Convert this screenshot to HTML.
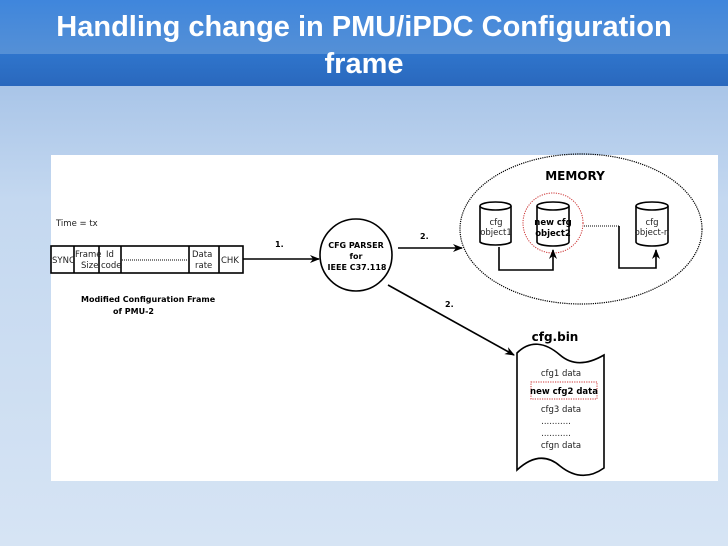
<!DOCTYPE html>
<html><head><style>
body{margin:0;width:728px;height:546px;overflow:hidden;font-family:"Liberation Sans",sans-serif;}
.bg{position:absolute;left:0;top:0;width:728px;height:546px;background:linear-gradient(#a9c5e8 86px,#c4d8f0 200px,#d6e4f4 546px);}
.t1{position:absolute;left:0;top:0;width:728px;height:54px;background:linear-gradient(#3f86dc,#5590d6);}
.t2{position:absolute;left:0;top:54px;width:728px;height:32px;background:linear-gradient(#2f75cc,#2a68bd);}
.title{position:absolute;left:0;top:9px;width:728px;text-align:center;color:#fff;font-weight:bold;font-size:29px;line-height:37px;}
svg{position:absolute;left:0;top:0}
</style></head><body>
<div class="bg"></div><div class="t1"></div><div class="t2"></div>
<div class="title">Handling change in PMU/iPDC Configuration<br>frame</div>
<svg width="728" height="546" font-family="DejaVu Sans, sans-serif">
<defs><marker id="a" markerWidth="10" markerHeight="8" refX="9" refY="4" orient="auto" markerUnits="userSpaceOnUse"><path d="M0,0L10,4L0,8L3,4z" fill="#000"/></marker></defs>
<rect x="51" y="155" width="667" height="326" fill="#fff"/>
<text x="56" y="226" font-size="8.5" fill="#222">Time = tx</text>
<g stroke="#000" stroke-width="1.6" fill="none">
<rect x="51" y="246" width="192" height="27"/>
<line x1="74" y1="246" x2="74" y2="273"/><line x1="99" y1="246" x2="99" y2="273"/><line x1="121" y1="246" x2="121" y2="273"/><line x1="189" y1="246" x2="189" y2="273"/><line x1="219" y1="246" x2="219" y2="273"/>
</g>
<line x1="122" y1="260" x2="188" y2="260" stroke="#000" stroke-dasharray="1,1"/>
<g font-size="8.5" fill="#222">
<text x="52" y="263">SYNC</text><text x="75" y="257">Frame</text><text x="81" y="268">Size</text>
<text x="106" y="257">Id</text><text x="101" y="268">code</text>
<text x="192" y="257">Data</text><text x="195" y="268">rate</text><text x="221" y="263">CHK</text>
</g>
<g font-size="8" font-weight="bold" fill="#000">
<text x="81" y="302">Modified Configuration Frame</text><text x="113" y="314">of  PMU-2</text>
<text x="275" y="247">1.</text><text x="420" y="239">2.</text><text x="445" y="307">2.</text>
</g>
<g stroke="#000" stroke-width="1.6" fill="none">
<line x1="243" y1="259" x2="319" y2="259" marker-end="url(#a)"/>
<circle cx="356" cy="255" r="36"/>
<line x1="398" y1="248" x2="462" y2="248" marker-end="url(#a)"/>
<line x1="388" y1="285" x2="514" y2="355" marker-end="url(#a)"/>
</g>
<g font-size="8" font-weight="bold" text-anchor="middle"><text x="356" y="248">CFG PARSER</text><text x="356" y="259">for</text><text x="357" y="270">IEEE C37.118</text></g>
<ellipse cx="581" cy="229" rx="121" ry="75" fill="none" stroke="#000" stroke-width="1.2" stroke-dasharray="1.2,1"/>
<text x="575" y="180" font-size="12" font-weight="bold" text-anchor="middle">MEMORY</text>
<circle cx="553" cy="223" r="30" fill="none" stroke="#c33" stroke-dasharray="1.2,1.2"/>
<g stroke="#000" stroke-width="1.6" fill="#fff">
<path d="M480,206 v36 a16,4 0 0 0 31,0 v-36"/><ellipse cx="495.5" cy="206" rx="15.5" ry="4"/>
<path d="M537,206 v36 a16,4 0 0 0 32,0 v-36"/><ellipse cx="553" cy="206" rx="16" ry="4"/>
<path d="M636,206 v36 a16,4 0 0 0 32,0 v-36"/><ellipse cx="652" cy="206" rx="16" ry="4"/>
</g>
<g font-size="8.5" text-anchor="middle" fill="#222">
<text x="496" y="225">cfg</text><text x="496" y="235">object1</text>
<text x="553" y="225" font-weight="bold" fill="#000">new cfg</text><text x="553" y="236" font-weight="bold" fill="#000">object2</text>
<text x="652" y="225">cfg</text><text x="652" y="235">object-n</text>
</g>
<g stroke="#000" stroke-width="1.6" fill="none">
<path d="M499,247 V270 H553 V250" marker-end="url(#a)"/>
<path d="M619,226 V268 H656 V250" marker-end="url(#a)"/>
</g>
<line x1="584" y1="226" x2="619" y2="226" stroke="#000" stroke-dasharray="1,1"/>
<text x="555" y="341" font-size="12" font-weight="bold" text-anchor="middle">cfg.bin</text>
<path d="M517,353 C530,340 545,342 560,355 C575,368 592,362 604,355 V468 C590,478 575,478 560,466 C545,453 530,458 517,470 Z" fill="#fff" stroke="#000" stroke-width="1.6"/>
<rect x="531" y="382" width="66" height="17" fill="none" stroke="#c33" stroke-dasharray="1.2,1.2"/>
<g font-size="8.5" fill="#222" text-anchor="middle">
<text x="561" y="376">cfg1 data</text>
<text x="564" y="394" font-weight="bold" fill="#000">new cfg2 data</text>
<text x="561" y="412">cfg3 data</text>
<text x="556" y="424">...........</text><text x="556" y="436">...........</text>
<text x="561" y="448">cfgn data</text>
</g>
</svg>
</body></html>
